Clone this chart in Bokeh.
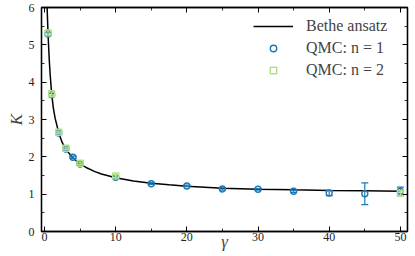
from bokeh.plotting import figure
from bokeh.models import (ColumnDataSource, Range1d, LinearAxis, SingleIntervalTicker,
                          Legend, LegendItem, CustomJSTickFormatter)
from bokeh.embed import file_html
from bokeh.resources import INLINE

# ---- data ----
bethe_gamma = [0.3, 0.4, 0.5, 0.6, 0.7, 0.8, 1.0, 1.25, 1.5, 2.0, 2.5, 3.0, 4.0, 5.0,
               6.0, 7.0, 8.0, 10.0, 12.5, 15.0, 17.5, 20.0, 25.0, 30.0, 35.0, 40.0, 45.0, 50.0]
bethe_K = [6.5, 5.82, 5.30, 4.87, 4.50, 4.20, 3.70, 3.30, 3.03, 2.64, 2.38, 2.20, 1.97, 1.81,
           1.70, 1.61, 1.54, 1.44, 1.35, 1.29, 1.25, 1.215, 1.16, 1.135, 1.115, 1.10, 1.09, 1.08]

n1_gamma = [0.5, 1, 2, 3, 4, 5, 10, 15, 20, 25, 30, 35, 40, 45, 50]
n1_K = [5.29, 3.66, 2.64, 2.21, 1.99, 1.81, 1.45, 1.28, 1.22, 1.14, 1.13, 1.08, 1.03, 1.01, 1.08]
n1_err = [0.05, 0.04, 0.03, 0.03, 0.03, 0.03, 0.03, 0.02, 0.02, 0.03, 0.02, 0.03, 0.07, 0.29, 0.11]

n2_gamma = [0.5, 1, 2, 3, 5, 10, 50]
n2_K = [5.32, 3.69, 2.66, 2.23, 1.83, 1.49, 1.02]
n2_err = [0.05, 0.04, 0.03, 0.03, 0.03, 0.04, 0.06]

x_label = "γ"
y_label = "K"
x_tick_interval = 10
y_tick_interval = 1

BLUE = "#1f78b4"
GREEN = "#b2df8a"
FONT = "Liberation Serif"

p = figure(width=415, height=256, output_backend="svg", toolbar_location=None,
           x_range=Range1d(-0.42, 51.0), y_range=Range1d(0, 6),
           min_border_left=41, min_border_right=8, min_border_top=7, min_border_bottom=25)
p.xgrid.visible = False
p.ygrid.visible = False
p.outline_line_color = "black"
p.outline_line_width = 1.3
p.background_fill_color = "white"
p.border_fill_color = "white"

xa = p.below[0]   # bottom axis
ya = p.left[0]    # left axis

top_ax = LinearAxis()
right_ax = LinearAxis()
p.add_layout(top_ax, "above")
p.add_layout(right_ax, "right")

for ax in [xa, top_ax]:
    ax.ticker = SingleIntervalTicker(interval=x_tick_interval, num_minor_ticks=2)
for ax in [ya, right_ax]:
    ax.ticker = SingleIntervalTicker(interval=y_tick_interval, num_minor_ticks=2)

for ax in [xa, ya, top_ax, right_ax]:
    ax.axis_line_color = "black"
    ax.axis_line_width = 1.3
    ax.major_tick_in = 5
    ax.major_tick_out = 0
    ax.minor_tick_in = 3
    ax.minor_tick_out = 0
    ax.major_tick_line_width = 1
    ax.minor_tick_line_width = 0.8
    ax.major_label_text_font = FONT
    ax.major_label_text_font_size = "12px"
    ax.major_label_text_color = "#222222"

for ax in [top_ax, right_ax]:
    ax.formatter = CustomJSTickFormatter(code="return ''")
    ax.major_label_standoff = 0

# the x label shares the tick-label row, as in the reference
xa.major_label_standoff = 1
xa.axis_label = x_label
xa.axis_label_text_font = FONT
xa.axis_label_text_font_style = "italic"
xa.axis_label_text_font_size = "17px"
xa.axis_label_standoff = -12

ya.major_label_standoff = 7
ya.axis_label = y_label
ya.axis_label_text_font = FONT
ya.axis_label_text_font_style = "italic"
ya.axis_label_text_font_size = "17px"
ya.axis_label_standoff = 0

# Bethe ansatz curve
line_r = p.line(bethe_gamma, bethe_K, line_color="black", line_width=1.5)

def errorbars(g, k, e, color, marker, size):
    src = ColumnDataSource(dict(g=g, k=k,
                                lo=[a - b for a, b in zip(k, e)],
                                hi=[a + b for a, b in zip(k, e)]))
    p.segment(x0="g", y0="lo", x1="g", y1="hi", source=src, line_color=color, line_width=1.2)
    p.scatter(x="g", y="lo", source=src, marker="dash", size=7, line_color=color, line_width=1.2)
    p.scatter(x="g", y="hi", source=src, marker="dash", size=7, line_color=color, line_width=1.2)
    return p.scatter(x="g", y="k", source=src, marker=marker, size=size,
                     line_color=color, line_width=1.4, fill_color=None)

r1 = errorbars(n1_gamma, n1_K, n1_err, BLUE, "circle", 6)
r2 = errorbars(n2_gamma, n2_K, n2_err, GREEN, "square", 6)

legend = Legend(items=[LegendItem(label="Bethe ansatz", renderers=[line_r]),
                       LegendItem(label="QMC: n = 1", renderers=[r1]),
                       LegendItem(label="QMC: n = 2", renderers=[r2])],
                location="top_right", margin=10, padding=0,
                glyph_width=40, glyph_height=16, label_height=16, label_width=91,
                label_standoff=13, spacing=4,
                label_text_font=FONT, label_text_font_size="16px",
                background_fill_alpha=0, border_line_alpha=0)
p.add_layout(legend)

open("out.html", "w").write(file_html(p, INLINE))
